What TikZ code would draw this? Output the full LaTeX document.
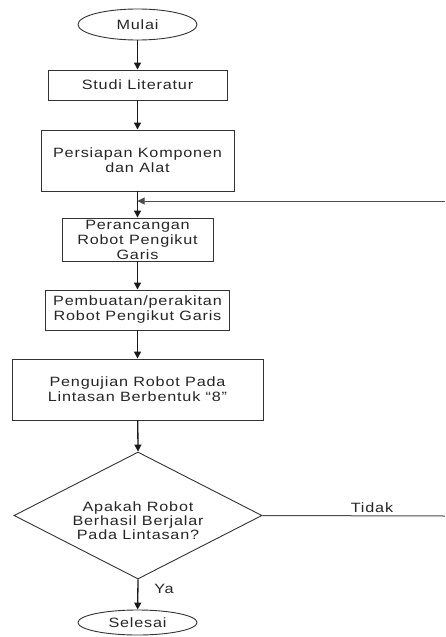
\documentclass[tikz,border=0pt]{standalone}
\usepackage{fontspec}
\setmainfont{Liberation Sans}[FakeStretch=1.2,LetterSpace=6]
\usetikzlibrary{shapes.geometric,arrows.meta}
\newcommand{\fcfont}{\fontsize{13.5}{15}\selectfont}
\begin{document}
\begin{tikzpicture}[x=1pt,y=-1pt,
  box/.style={draw=black!80,line width=0.9pt,rectangle,inner sep=0pt,align=center,font=\fcfont,text=black!85},
  term/.style={draw=black!80,ellipse,line width=0.9pt,inner sep=0pt,font=\fcfont,text=black!85},
  flow/.style={-{Triangle[length=7pt,width=7pt]},line width=1.3pt,draw=black!90},
  plain/.style={line width=1pt,draw=black!70},
  lbl/.style={font=\fcfont,text=black!85,inner sep=0pt}
]
\useasboundingbox (0,0) rectangle (445,637);
\fill[white] (0,0) rectangle (445,637);

\node[term,minimum width=119pt,minimum height=31pt] (mulai) at (137.5,24.5) {Mulai};
\node[box,minimum width=179pt,minimum height=30pt] (studi) at (137.5,85) {Studi Literatur};
\node[box,minimum width=193pt,minimum height=61pt] (siap) at (137.5,160.5) {Persiapan Komponen\\dan Alat};
\node[box,minimum width=151pt,minimum height=43pt] (rancang) at (137.5,239.5) {Perancangan\\Robot Pengikut\\Garis};
\node[box,minimum width=184pt,minimum height=40pt] (buat) at (137.5,310) {Pembuatan/perakitan\\Robot Pengikut Garis};
\node[box,minimum width=251pt,minimum height=61pt] (uji) at (137.5,389.5) {Pengujian Robot Pada\\Lintasan Berbentuk ``8''};
\node[draw=black!80,line width=0.9pt,diamond,minimum width=248pt,minimum height=127pt,inner sep=0pt] (cek) at (138,515.5) {};
\node[lbl,align=center,font=\fontsize{13.5}{14}\selectfont] (cektxt) at (138,521) {Apakah Robot\\Berhasil Berjalar\\Pada Lintasan?};
\node[term,minimum width=119pt,minimum height=25pt] (selesai) at (137.5,622.5) {Selesai};

\coordinate (ujung1) at (445,201);
\coordinate (ujung2) at (445,516);
\coordinate (temu) at (137.5,201);

\draw[flow] (mulai) -- (studi);
\draw[flow] (studi) -- (siap);
\draw[flow] (siap) -- (rancang);
\draw[flow] (rancang) -- (buat);
\draw[flow] (buat) -- (uji);
\draw[flow] (uji) -- (cek.north);
\draw[flow] (cek.south) -- (selesai);
\draw[plain] (cek.east) -- (ujung2);
\draw[plain,-{Triangle[length=7pt,width=7pt]}] (ujung1) -- (temu);

\node[lbl] (ya) at (164,589) {Ya};
\node[lbl] (tidak) at (372,508) {Tidak};
\end{tikzpicture}
\end{document}
